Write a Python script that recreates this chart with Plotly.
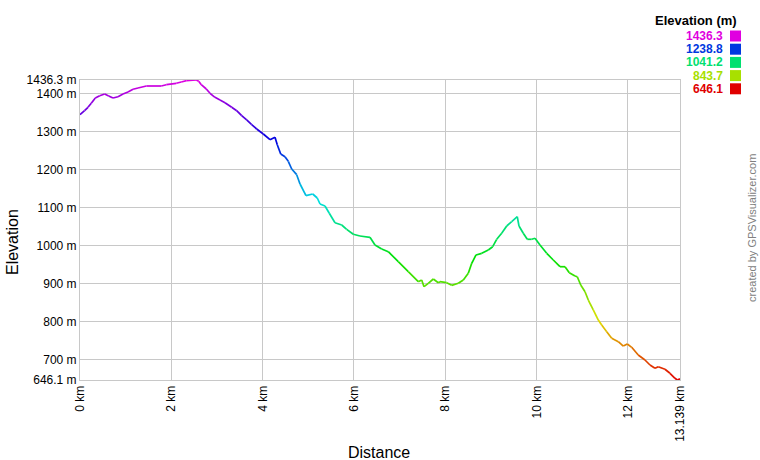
import colorsys
import plotly.graph_objects as go

distance_km = [0.0, 0.10, 0.175, 0.247, 0.335, 0.431, 0.541, 0.628, 0.723, 0.832, 0.942, 1.051,
               1.161, 1.270, 1.452, 1.780, 1.890, 2.109, 2.218, 2.328, 2.547, 2.599, 2.656, 2.766,
               2.847, 2.956, 3.066, 3.175, 3.322, 3.431, 3.541, 3.650, 3.760, 3.869, 4.014, 4.161,
               4.270, 4.320, 4.395, 4.489, 4.561, 4.636, 4.745, 4.818, 4.949, 5.096, 5.196, 5.256,
               5.365, 5.459, 5.584, 5.731, 5.840, 5.985, 6.131, 6.350, 6.460, 6.607, 6.751, 6.970,
               7.189, 7.408, 7.483, 7.533, 7.627, 7.737, 7.846, 7.883, 8.030, 8.140, 8.284, 8.394,
               8.503, 8.578, 8.672, 8.797, 8.941, 9.037, 9.125, 9.234, 9.344, 9.453, 9.576, 9.613,
               9.707, 9.795, 9.891, 9.964, 10.073, 10.220, 10.364, 10.511, 10.621, 10.715, 10.840,
               10.890, 10.965, 11.059, 11.131, 11.240, 11.350, 11.424, 11.534, 11.643, 11.788,
               11.897, 11.985, 12.081, 12.225, 12.372, 12.482, 12.591, 12.663, 12.810, 12.920,
               13.029, 13.08, 13.139]
elevation_m = [1345, 1355.4, 1364.4, 1374.9, 1388.9, 1394.9, 1399.4, 1394.2, 1388.9, 1392.3, 1399.4,
               1404.7, 1411.8, 1415.2, 1420.5, 1420.5, 1423.9, 1427.6, 1431.0, 1434.5, 1436.3, 1432.9,
               1423.9, 1412.6, 1401.3, 1390.7, 1383.6, 1376.5, 1364.4, 1355.4, 1342.3, 1331.0, 1318.6,
               1307.2, 1294.1, 1279.1, 1285.4, 1265.9, 1241.4, 1234.3, 1222.2, 1201.9, 1186.9, 1162.4,
               1131.6, 1136.0, 1125.5, 1109.7, 1104.4, 1085.2, 1060.4, 1054.4, 1043.0, 1029.9, 1025.4,
               1022.0, 1001.7, 991.2, 984.1, 957.7, 931.4, 905.0, 909.5, 891.9, 900.8, 912.1, 902.4,
               905.0, 902.4, 895.5, 900.8, 909.5, 927.1, 953.5, 975.4, 979.8, 988.6, 997.2, 1016.7,
               1032.5, 1051.7, 1063.0, 1076.2, 1051.7, 1032.5, 1016.7, 1016.7, 1019.3, 1001.7, 979.8,
               962.2, 944.5, 944.5, 928.7, 920.0, 918.2, 896.3, 878.7, 856.8, 830.5, 804.1, 791.0,
               773.3, 755.9, 747.0, 735.6, 740.9, 732.2, 712.0, 698.8, 685.6, 677.0, 681.2, 674.3,
               663.8, 650.6, 646.1, 649.0]

y_min, y_max = 646.1, 1436.3
x_max = 13.139
y_ticks = [646.1, 700, 800, 900, 1000, 1100, 1200, 1300, 1400, 1436.3]
y_tick_text = ["646.1 m", "700 m", "800 m", "900 m", "1000 m", "1100 m", "1200 m", "1300 m", "1400 m", "1436.3 m"]
x_ticks = [0, 2, 4, 6, 8, 10, 12, 13.139]
x_tick_text = ["0 km", "2 km", "4 km", "6 km", "8 km", "10 km", "12 km", "13.139 km"]
legend_values = [1436.3, 1238.8, 1041.2, 843.7, 646.1]
legend_text = ["1436.3", "1238.8", "1041.2", "843.7", "646.1"]


def elev_color(e):
    f = (e - y_min) / (y_max - y_min)
    f = max(0.0, min(1.0, f))
    r, g, b = colorsys.hsv_to_rgb(f * 300 / 360.0, 1.0, 0.88)
    return "rgb(%d,%d,%d)" % (round(r * 255), round(g * 255), round(b * 255))


fig = go.Figure()
for i in range(len(distance_km) - 1):
    e = (elevation_m[i] + elevation_m[i + 1]) / 2
    fig.add_trace(go.Scatter(
        x=distance_km[i:i + 2], y=elevation_m[i:i + 2], mode="lines",
        line=dict(color=elev_color(e), width=1.7), showlegend=False, hoverinfo="skip"))

font_family = "Liberation Sans, Arial, sans-serif"
# positions below are page pixels (body margin removed by post_script)
annotations = [
    dict(text="<b>Elevation (m)</b>", x=739, y=21,
         showarrow=False, xanchor="right", yanchor="middle",
         font=dict(size=13, color="black", family=font_family)),
    dict(text="created by GPSVisualizer.com", x=752, y=228, showarrow=False, textangle=-90,
         xanchor="center", yanchor="middle", font=dict(size=11, color="#808080", family=font_family)),
    dict(text="Distance", x=379, y=452, showarrow=False, xanchor="center", yanchor="middle",
         font=dict(size=16, color="black", family=font_family)),
    dict(text="Elevation", x=12, y=242, showarrow=False, textangle=-90, xanchor="center",
         yanchor="middle", font=dict(size=16, color="black", family=font_family)),
]
shapes = []
for k, (v, t) in enumerate(zip(legend_values, legend_text)):
    yc = 36 + k * 13.2
    annotations.append(dict(text="<b>" + t + "</b>", x=725, y=yc, showarrow=False,
                            xanchor="right", yanchor="middle",
                            font=dict(size=12, color=elev_color(v), family=font_family)))
    shapes.append(dict(type="rect", x0=730, x1=741, y0=yc - 5.5, y1=yc + 5.5,
                       fillcolor=elev_color(v), line=dict(width=0)))

W, H = 760, 460
L, R, T, B = 80, 80, 80, 80
pw, ph = W - L - R, H - T - B
for a in annotations:
    a["xref"] = "paper"
    a["yref"] = "paper"
    a["x"] = (a["x"] - L) / pw
    a["y"] = 1 - (a["y"] - T) / ph
for s in shapes:
    s["xref"] = "paper"
    s["yref"] = "paper"
    x0, x1, y0, y1 = s["x0"], s["x1"], s["y0"], s["y1"]
    s["x0"] = (x0 - L) / pw
    s["x1"] = (x1 - L) / pw
    s["y0"] = 1 - (y1 - T) / ph
    s["y1"] = 1 - (y0 - T) / ph

fig.update_layout(
    width=W, height=H,
    margin=dict(l=L, r=R, t=T, b=B),
    paper_bgcolor="white", plot_bgcolor="white",
    font=dict(family=font_family, size=12, color="black"),
    annotations=annotations, shapes=shapes,
    hovermode=False,
    xaxis=dict(range=[0, x_max], tickvals=x_ticks, ticktext=x_tick_text, tickangle=-90,
               showgrid=True, gridcolor="#c8c8c8", gridwidth=1, zeroline=False,
               showline=True, linecolor="#c8c8c8", mirror=True, ticks="",
               tickfont=dict(size=12), automargin=False),
    yaxis=dict(range=[y_min, y_max], tickvals=y_ticks, ticktext=y_tick_text,
               showgrid=True, gridcolor="#c8c8c8", gridwidth=1, zeroline=False,
               showline=True, linecolor="#c8c8c8", mirror=True, ticks="",
               tickfont=dict(size=12), automargin=False),
)
fig.write_html("out.html", config={"displayModeBar": False},
               post_script="document.body.style.margin='0';document.body.style.overflow='hidden';")
